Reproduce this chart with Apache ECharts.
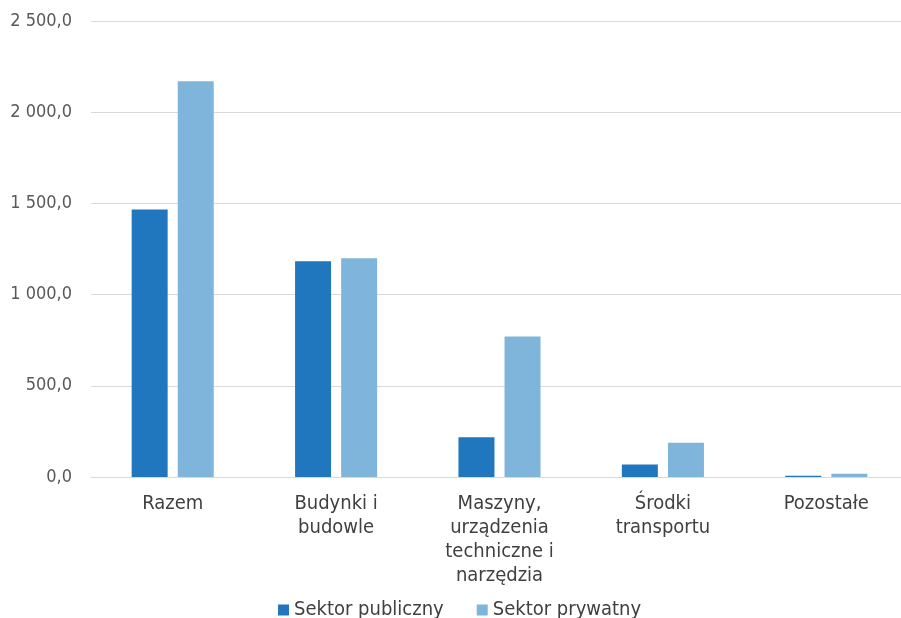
<!DOCTYPE html>
<html>
<head>
<meta charset="utf-8">
<script src="https://cdn.jsdelivr.net/npm/echarts@6/dist/echarts.min.js"></script>
<style>
html,body{margin:0;padding:0;background:#fff;overflow:hidden;width:901px;height:618px;}
#c{width:910px;height:618px;}
</style>
</head>
<body>
<div id="c"></div>
<script>
var categories = ["Razem", "Budynki i\nbudowle", "Maszyny,\nurządzenia\ntechniczne i\nnarzędzia", "Środki\ntransportu", "Pozostałe"];
var seriesNames = ["Sektor publiczny", "Sektor prywatny"];
var publicValues = [1467, 1183, 218, 68, 7];
var privateValues = [2170, 1199, 770, 188, 18];
var yTicks = [0, 500, 1000, 1500, 2000, 2500];

var FONT = '"DejaVu Sans Condensed", "Open Sans", sans-serif';

function fmt(v) {
  var s = v.toFixed(1).replace('.', ',');
  var parts = s.split(',');
  parts[0] = parts[0].replace(/\B(?=(\d{3})+(?!\d))/g, ' ');
  return parts.join(',');
}

var chart = echarts.init(document.getElementById('c'));
chart.setOption({
  animation: false,
  textStyle: { fontFamily: FONT },
  grid: { left: 91, top: 21, width: 817, height: 456, containLabel: false },
  legend: {
    top: 595,
    left: 273,
    itemWidth: 11,
    itemHeight: 11,
    itemGap: 33,
    icon: 'rect',
    textStyle: { fontFamily: FONT, fontSize: 20, color: '#404040' },
    data: seriesNames
  },
  xAxis: {
    type: 'category',
    data: categories,
    axisLine: { lineStyle: { color: '#d9d9d9', width: 1 } },
    axisTick: { show: false },
    axisLabel: { fontFamily: FONT, fontSize: 20, color: '#404040', lineHeight: 24, margin: 15, interval: 0 }
  },
  yAxis: {
    type: 'value',
    min: 0,
    max: 2500,
    interval: 500,
    axisLine: { show: false },
    axisTick: { show: false },
    splitLine: { lineStyle: { color: '#d9d9d9', width: 1 } },
    axisLabel: { fontFamily: FONT, fontSize: 18, color: '#595959', margin: 19, formatter: fmt }
  },
  series: [
    {
      name: seriesNames[0],
      type: 'bar',
      data: publicValues,
      barWidth: 36,
      barGap: '28%',
      itemStyle: { color: '#2177bd' }
    },
    {
      name: seriesNames[1],
      type: 'bar',
      data: privateValues,
      barWidth: 36,
      itemStyle: { color: '#80b5db' }
    }
  ]
});
</script>
</body>
</html>
